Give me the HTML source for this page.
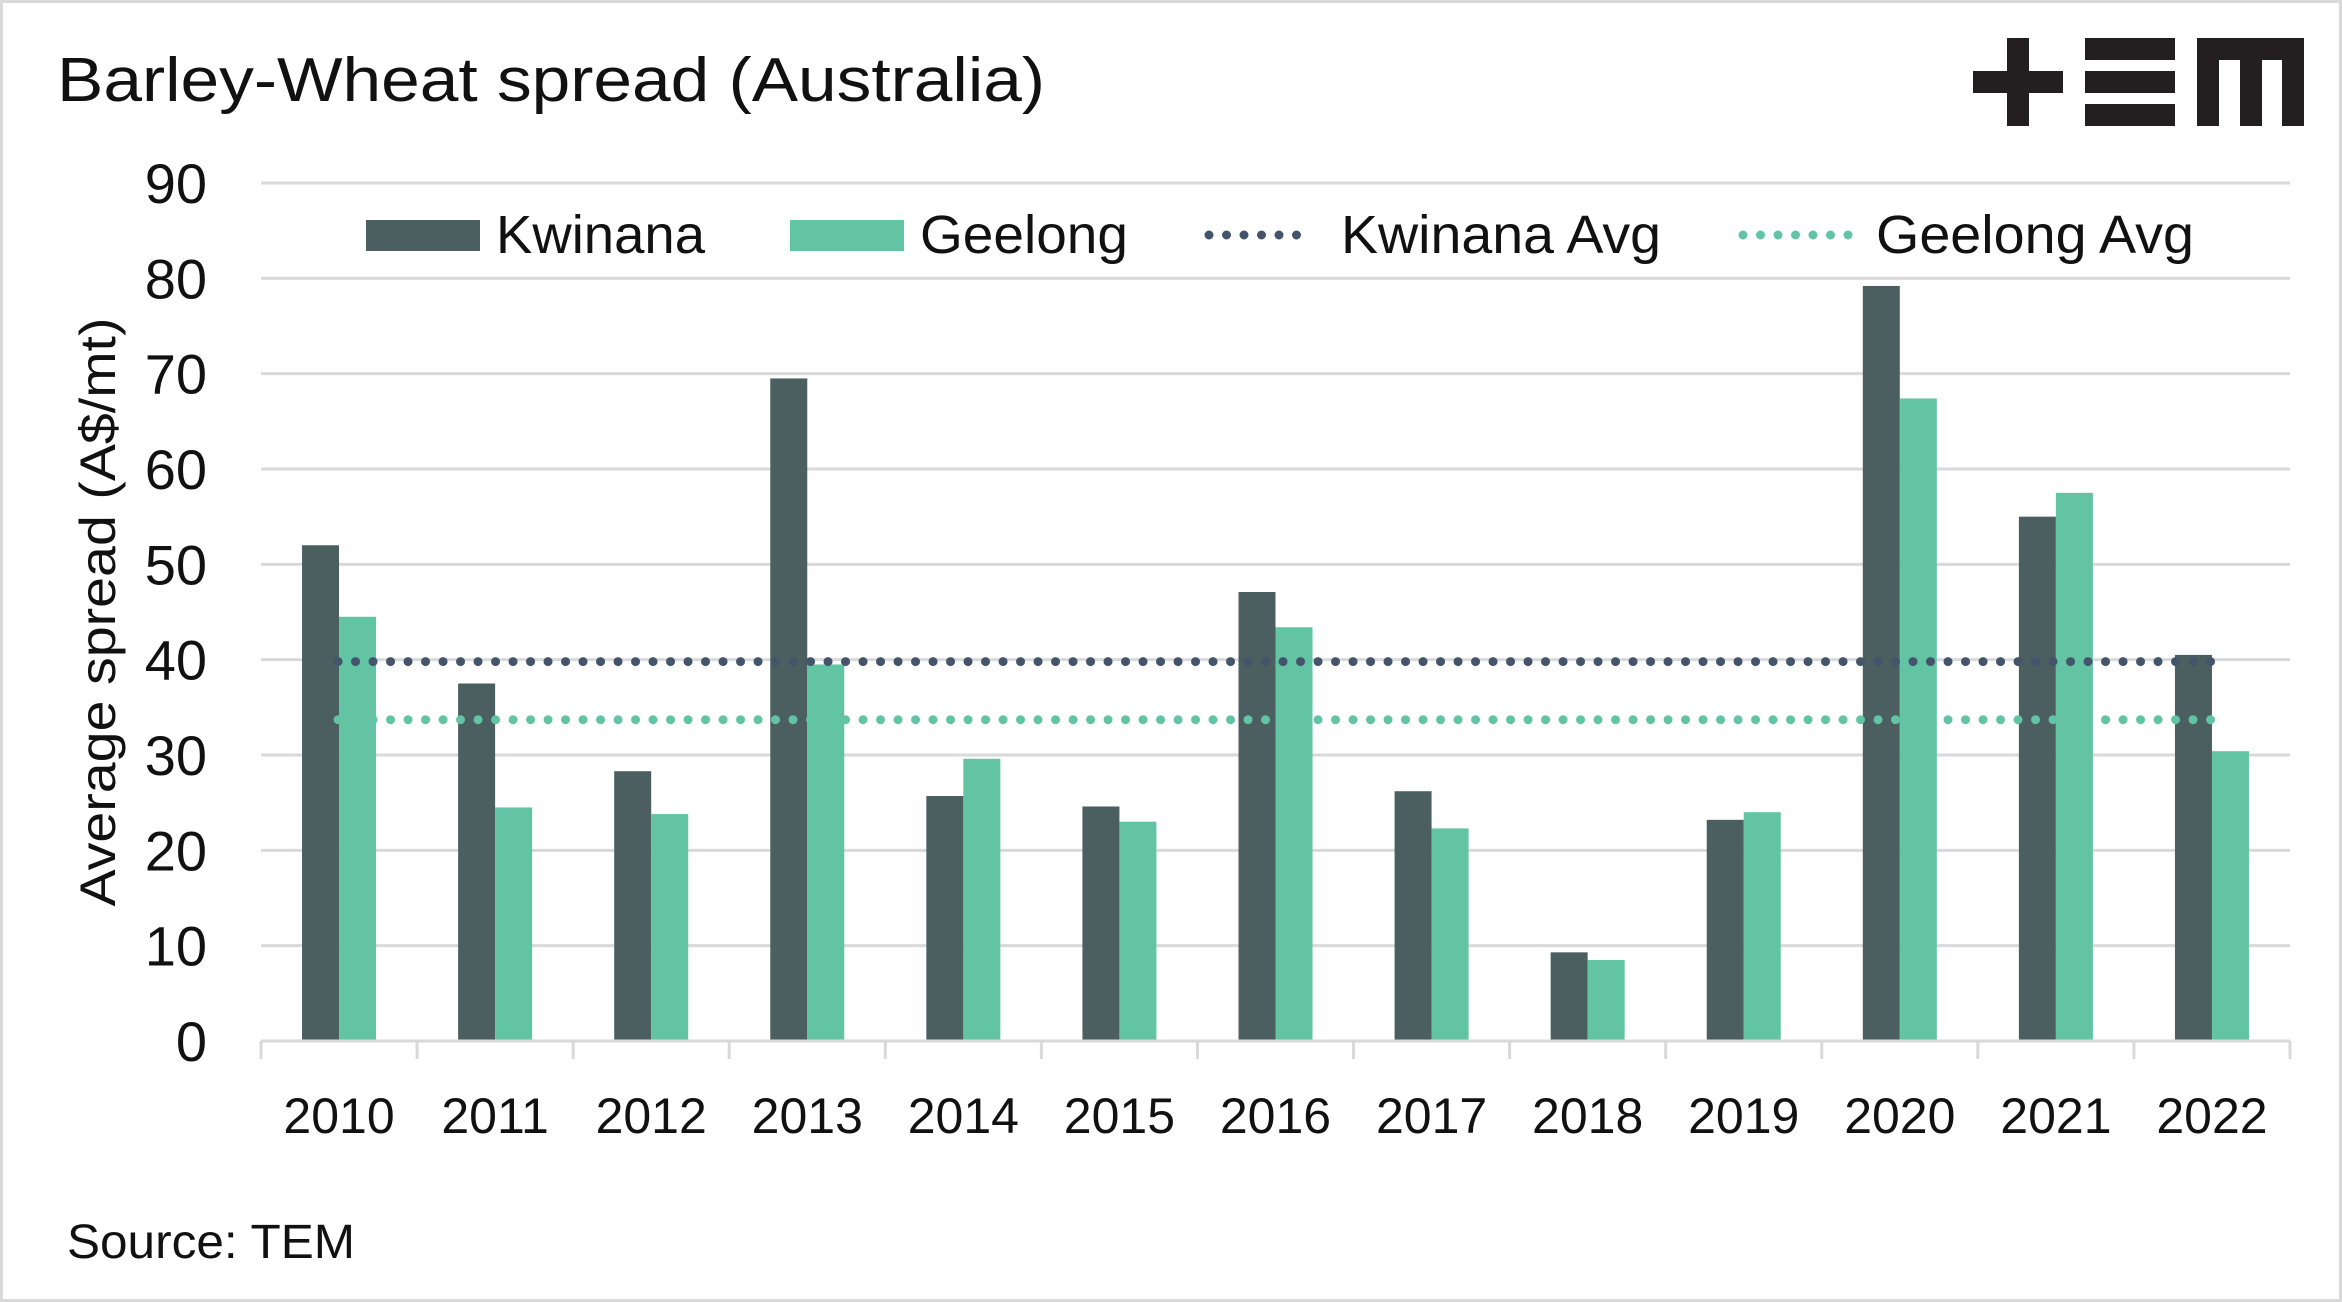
<!DOCTYPE html>
<html><head><meta charset="utf-8"><style>
html,body{margin:0;padding:0;background:#fff;}
svg{display:block;font-family:"Liberation Sans",sans-serif;}
</style></head><body>
<svg id="chart" width="2342" height="1302" viewBox="0 0 2342 1302" xmlns="http://www.w3.org/2000/svg">
<rect x="1.5" y="1.5" width="2339" height="1299" fill="#fff" stroke="#d9d9d9" stroke-width="3"/>
<text x="57" y="101" font-size="62" fill="#111" textLength="988" lengthAdjust="spacingAndGlyphs">Barley-Wheat spread (Australia)</text>
<g fill="#231f20">
<rect x="1973" y="71" width="90" height="22"/><rect x="2007" y="38" width="22" height="88"/>
<rect x="2085" y="38" width="90" height="22"/><rect x="2085" y="71" width="90" height="22"/><rect x="2085" y="104" width="90" height="22"/>
<rect x="2197" y="38" width="107" height="22"/><rect x="2197" y="38" width="22" height="88"/><rect x="2240" y="38" width="22" height="88"/><rect x="2282" y="38" width="22" height="88"/>
</g>
<g id="grid"></g><g id="bars"></g><g id="avgs"></g><g id="axis"></g>
<text transform="translate(115,612) rotate(-90)" text-anchor="middle" font-size="50" fill="#111" textLength="589" lengthAdjust="spacingAndGlyphs">Average spread (A$/mt)</text>
<g>
<rect x="366" y="220" width="114" height="31" fill="#4b5f60"/>
<text x="496" y="253" font-size="54" fill="#111" textLength="209" lengthAdjust="spacingAndGlyphs">Kwinana</text>
<rect x="790" y="220" width="114" height="31" fill="#62c4a3"/>
<text x="920" y="253" font-size="54" fill="#111" textLength="208" lengthAdjust="spacingAndGlyphs">Geelong</text>
<line x1="1209" y1="235" x2="1314" y2="235" stroke="#44546a" stroke-width="9" stroke-linecap="round" stroke-dasharray="0 17.5"/>
<text x="1341" y="253" font-size="54" fill="#111" textLength="320" lengthAdjust="spacingAndGlyphs">Kwinana Avg</text>
<line x1="1743" y1="235" x2="1852" y2="235" stroke="#62c4a3" stroke-width="9" stroke-linecap="round" stroke-dasharray="0 17.5"/>
<text x="1876" y="253" font-size="54" fill="#111" textLength="318" lengthAdjust="spacingAndGlyphs">Geelong Avg</text>
</g>
<text x="67" y="1258" font-size="48" fill="#111" textLength="288" lengthAdjust="spacingAndGlyphs">Source: TEM</text>
</svg>
<script>
const categories = ["2010","2011","2012","2013","2014","2015","2016","2017","2018","2019","2020","2021","2022"];
const kwinana = [52, 37.5, 28.3, 69.5, 25.7, 24.6, 47.1, 26.2, 9.3, 23.2, 79.2, 55, 40.5];
const geelong = [44.5, 24.5, 23.8, 39.5, 29.6, 23, 43.4, 22.3, 8.5, 24, 67.4, 57.5, 30.4];
const kwinanaAvg = [39.8];
const geelongAvg = [33.7];
const yTicks = [0,10,20,30,40,50,60,70,80,90];

const NS = "http://www.w3.org/2000/svg";
const L = 261, R = 2290, Y0 = 1041, Y90 = 183;
const band = (R - L) / categories.length;
const barW = 37;
function y(v){ return Y0 - (v/90)*(Y0-Y90); }
function xc(i){ return L + band*(i+0.5); }
function mk(tag, attrs, parent){ const e=document.createElementNS(NS,tag); for(const k in attrs) e.setAttribute(k, attrs[k]); parent.appendChild(e); return e; }

const grid = document.getElementById('grid');
yTicks.forEach(t => {
  if (t > 0) {
    const g = mk('line', {x1:L, x2:R, y1:y(t), y2:y(t), stroke:'#d9d9d9', 'stroke-width':3}, grid);
    
    
  }
  const lab = mk('text', {x:207, y:y(t)+20, 'text-anchor':'end', 'font-size':56, fill:'#111'}, grid);
  lab.textContent = t;
  
  
});

const bars = document.getElementById('bars');
categories.forEach((c, i) => {
  const k = mk('rect', {x:xc(i)-barW, y:y(kwinana[i]), width:barW, height:Y0-y(kwinana[i]), fill:'#4b5f60'}, bars);
  
  
  const g = mk('rect', {x:xc(i), y:y(geelong[i]), width:barW, height:Y0-y(geelong[i]), fill:'#62c4a3'}, bars);
  
  
});

const avgs = document.getElementById('avgs');
const x1 = xc(0) - 1, x2 = xc(categories.length-1);
const ka = mk('line', {x1:x1, x2:x2, y1:y(kwinanaAvg[0]), y2:y(kwinanaAvg[0]), stroke:'#44546a', 'stroke-width':9, 'stroke-linecap':'round', 'stroke-dasharray':'0 17.5'}, avgs);


const ga = mk('line', {x1:x1, x2:x2, y1:y(geelongAvg[0]), y2:y(geelongAvg[0]), stroke:'#62c4a3', 'stroke-width':9, 'stroke-linecap':'round', 'stroke-dasharray':'0 17.5'}, avgs);



const axis = document.getElementById('axis');
const ax = mk('line', {x1:L, x2:R, y1:Y0, y2:Y0, stroke:'#d9d9d9', 'stroke-width':3}, axis);


for (let i = 0; i <= categories.length; i++) {
  const t = mk('line', {x1:L+band*i, x2:L+band*i, y1:Y0, y2:Y0+18, stroke:'#d9d9d9', 'stroke-width':3}, axis);
  
  
}
categories.forEach((c, i) => {
  const t = mk('text', {x:xc(i), y:1133, 'text-anchor':'middle', 'font-size':50, fill:'#111'}, axis);
  t.textContent = c;
  
  
});
</script>
</body></html>
